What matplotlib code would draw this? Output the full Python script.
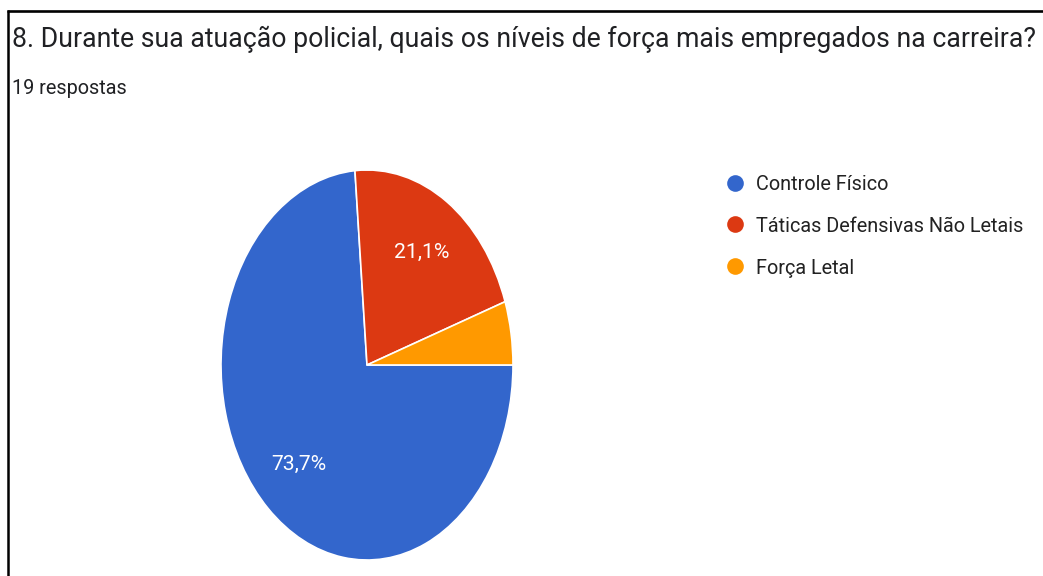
import matplotlib
matplotlib.use("Agg")
import matplotlib.pyplot as plt

# ---- data ----
title = "8. Durante sua atuação policial, quais os níveis de força mais empregados na carreira?"
subtitle = "19 respostas"
categories = ["Controle Físico", "Táticas Defensivas Não Letais", "Força Letal"]
counts = [14, 4, 1]
colors = ["#3366CC", "#DC3912", "#FF9900"]

W, H = 1043, 576
plt.rcParams['font.family'] = ['Roboto', 'DejaVu Sans']
fig = plt.figure(figsize=(W / 100, H / 100), dpi=100)
fig.patch.set_facecolor("white")

# overlay axes in pixel coordinates for text / border / legend
ov = fig.add_axes([0, 0, 1, 1])
ov.set_xlim(0, W)
ov.set_ylim(H, 0)
ov.axis("off")

# pie axes: ellipse area (stretched like the reference)
cx, cy, rx, ry = 367, 365, 146, 195
ax = fig.add_axes([(cx - rx) / W, (H - cy - ry) / H, 2 * rx / W, 2 * ry / H])


def pct(p):
    return ("%.1f%%" % p).replace(".", ",") if p >= 10 else ""


wedges, texts, autotexts = ax.pie(
    counts, colors=colors, startangle=0, counterclock=False,
    autopct=pct, pctdistance=0.69, radius=1.0,
    wedgeprops=dict(edgecolor="white", linewidth=1.2),
    textprops=dict(color="white", fontsize=15))
ax.set_aspect("auto")
ax.set_xlim(-1, 1)
ax.set_ylim(-1, 1)
ax.axis("off")

# border lines
ov.plot([7, W], [10.5, 10.5], color="black", lw=1.9, solid_capstyle="butt")
ov.plot([7.5, 7.5], [10, H], color="black", lw=1.8, solid_capstyle="butt")

# title and subtitle
t1 = ov.text(12.5, 47, title, fontsize=20, color="#202124", va="baseline", ha="left")
t2 = ov.text(12.5, 94, subtitle, fontsize=14, color="#202124", va="baseline", ha="left")

# legend
leg_y = [183, 224, 266]
leg_texts = []
for lab, col, y in zip(categories, colors, leg_y):
    ov.plot([735], [y], marker="o", markersize=12, color=col, markeredgewidth=0)
    leg_texts.append(ov.text(756, y + 7.5, lab, fontsize=15, color="#222222",
                             va="baseline", ha="left"))

# fit text widths to reference
fig.canvas.draw()
r = fig.canvas.get_renderer()


def fit(t, target):
    bb = t.get_window_extent(r)
    t.set_fontsize(t.get_fontsize() * target / bb.width)


fit(t1, 1019)
fit(t2, 116)
fit(leg_texts[1], 269)
for lt in (leg_texts[0], leg_texts[2]):
    lt.set_fontsize(leg_texts[1].get_fontsize())
fit(autotexts[0], 55)
autotexts[1].set_fontsize(autotexts[0].get_fontsize())

fig.savefig("out.png", dpi=100, facecolor="white")
